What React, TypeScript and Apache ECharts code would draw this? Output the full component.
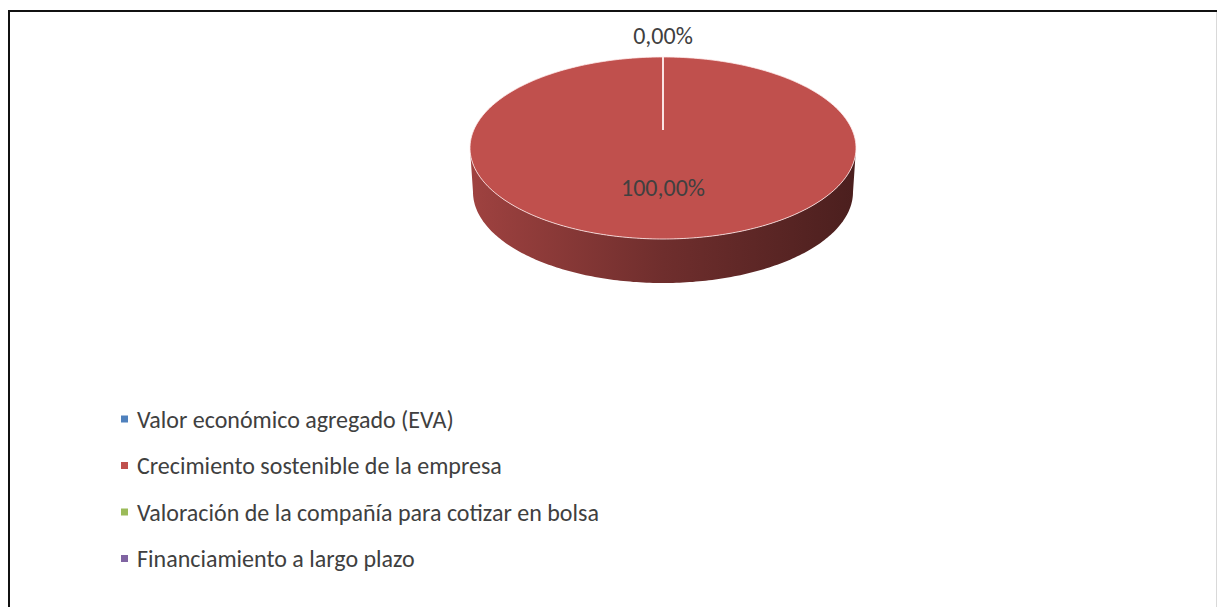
import React, { useEffect, useRef } from "react";
import * as echarts from "echarts";

const categories = [
  "Valor económico agregado (EVA)",
  "Crecimiento sostenible de la empresa",
  "Valoración de la compañía para cotizar en bolsa",
  "Financiamiento a largo plazo",
];
const values = [0, 100, 0, 0];
const colors = ["#4f81bd", "#c0504d", "#9bbb59", "#8064a2"];

const FONT = "Carlito, Calibri, Lato, 'Open Sans', sans-serif";

// layout of the 3D pie (pixels)
const CX = 663;
const CY = 148;
const RX = 193;
const RY = 91;
const APEX_DY = -18;
const DEPTH = 44;
const RX_BOTTOM = 190;

function shade(hex: string, f: number) {
  const n = parseInt(hex.slice(1), 16);
  const r = Math.round(((n >> 16) & 255) * f);
  const g = Math.round(((n >> 8) & 255) * f);
  const b = Math.round((n & 255) * f);
  return `rgb(${r},${g},${b})`;
}

function fmt(v: number, total: number) {
  return ((v / total) * 100).toFixed(2).replace(".", ",") + "%";
}

export default function App() {
  const ref = useRef<HTMLDivElement>(null);
  useEffect(() => {
    if (!ref.current) return;
    const chart = echarts.init(ref.current, undefined, { renderer: "svg" });
    const total = values.reduce((a, b) => a + b, 0);
    const starts: number[] = [];
    let acc = 0;
    values.forEach((v) => {
      starts.push(acc);
      acc += v;
    });

    const pt = (deg: number, dy = 0, rx = RX) => {
      const t = (deg * Math.PI) / 180;
      return [CX + rx * Math.sin(t), CY + dy - RY * Math.cos(t)];
    };
    const sample = (a: number, b: number, dy = 0, rx = RX) => {
      const pts: number[][] = [];
      const n = Math.max(1, Math.ceil(Math.abs(b - a)));
      for (let k = 0; k <= n; k++) pts.push(pt(a + ((b - a) * k) / n, dy, rx));
      return pts;
    };

    const renderItem = (params: any, api: any) => {
      const i = params.dataIndex;
      const v = api.value(1);
      const s = (starts[i] / total) * 360;
      const e = s + (v / total) * 360;
      const apex = [CX, CY + APEX_DY];
      const children: any[] = [];

      // side wall (front half only)
      const a = Math.max(s, 90);
      const b = Math.min(e, 270);
      if (b > a) {
        const topPts = sample(a, b);
        const botPts = sample(b, a, DEPTH, RX_BOTTOM);
        children.push({
          type: "polygon",
          shape: { points: topPts.concat(botPts) },
          style: {
            fill: {
              type: "linear",
              x: CX - RX,
              y: 0,
              x2: CX + RX,
              y2: 0,
              global: true,
              colorStops: [
                { offset: 0, color: shade(colors[i], 0.83) },
                { offset: 0.5, color: shade(colors[i], 0.58) },
                { offset: 1, color: shade(colors[i], 0.39) },
              ],
            },
          },
          z2: 1,
        });
      }

      // top face
      children.push({
        type: "polygon",
        shape: { points: [apex].concat(sample(s, e)) },
        style: {
          fill: colors[i],
          stroke: "rgba(255,235,235,0.8)",
          lineWidth: 1,
        },
        z2: 2,
      });

      // label (skip duplicates of zero slices sharing a position)
      const pos = s % 360;
      let dup = false;
      for (let j = 0; j < i; j++) {
        if (values[j] === 0 && v === 0 && ((starts[j] / total) * 360) % 360 === pos) dup = true;
      }
      if (!dup) {
        const mid = (s + e) / 2;
        const edge = pt(mid);
        let lx: number, ly: number;
        if (v === 0) {
          const dx = edge[0] - apex[0];
          const dyy = edge[1] - apex[1];
          const len = Math.hypot(dx, dyy) || 1;
          lx = edge[0] + (dx / len) * 22;
          ly = edge[1] + (dyy / len) * 22;
        } else {
          lx = apex[0] + 0.53 * (edge[0] - apex[0]);
          ly = apex[1] + 0.53 * (edge[1] - apex[1]);
        }
        children.push({
          type: "text",
          x: lx,
          y: ly,
          style: {
            text: fmt(v, total),
            fill: "#404040",
            fontSize: 24,
            fontFamily: FONT,
            align: "center",
            verticalAlign: "middle",
          },
          z2: 10,
        });
      }
      return { type: "group", children };
    };

    chart.setOption({
      animation: false,
      backgroundColor: "#ffffff",
      legend: {
        data: categories,
        orient: "vertical",
        left: 116,
        top: 402,
        icon: "rect",
        itemWidth: 7,
        itemHeight: 7,
        itemGap: 22.5,
        selectedMode: false,
        textStyle: {
          color: "#404040",
          fontSize: 24,
          fontFamily: FONT,
          lineHeight: 24,
          padding: [0, 0, 0, 4],
        },
      },
      graphic: [
        { type: "line", shape: { x1: 8, y1: 11, x2: 1217, y2: 11 }, style: { stroke: "#111", lineWidth: 2 } },
        { type: "line", shape: { x1: 9, y1: 10, x2: 9, y2: 607 }, style: { stroke: "#111", lineWidth: 2 } },
        { type: "line", shape: { x1: 1216.5, y1: 12, x2: 1216.5, y2: 607 }, style: { stroke: "#d9d9d9", lineWidth: 1 } },
      ],
      series: [
        {
          type: "pie",
          name: "legend",
          radius: 0,
          center: [CX, CY],
          silent: true,
          color: colors,
          label: { show: false },
          labelLine: { show: false },
          data: categories.map((c, i) => ({ name: c, value: values[i] })),
        },
        {
          type: "custom",
          name: "pie3d",
          coordinateSystem: "none",
          silent: true,
          renderItem,
          data: values.map((v, i) => ({ name: categories[i], value: [i, v] })),
        },
      ],
    });
    return () => chart.dispose();
  }, []);
  return (
    <div
      ref={ref}
      style={{ position: "fixed", left: 0, top: 0, width: 1217, height: 607 }}
    />
  );
}
